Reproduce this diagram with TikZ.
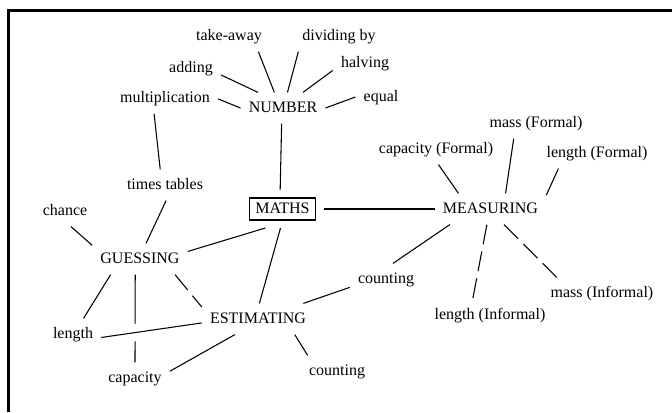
\documentclass[tikz,border=0pt]{standalone}
\usepackage{fontspec}
\setmainfont{Liberation Serif}
\begin{document}
\begin{tikzpicture}[
    x=0.75pt, y=-0.75pt,
    concept/.style={inner xsep=6pt, inner ysep=6pt,
      text height=8.5pt, text depth=2.5pt,
      font=\fontsize{12pt}{14pt}\selectfont},
    hub/.style={concept, draw, line width=0.8pt,
      inner xsep=4.5pt, inner ysep=2.75pt, outer sep=6pt},
    link/.style={line width=0.8pt},
    informal/.style={link, dash pattern=on 15pt off 5.5pt},
    bridge/.style={link, preaction={draw=white, line width=13pt}},
    frame/.style={line width=2.2pt, line join=miter},
]
\useasboundingbox (0,0) rectangle (672,412);
\draw[frame] (672,10.7) -| (8.7,412);
% number branch
\node[concept] (takeaway) at (229,36) {take-away};
\node[concept] (dividing) at (339,36) {dividing by};
\node[concept] (adding) at (191,68) {adding};
\node[concept] (halving) at (365,63) {halving};
\node[concept] (multiplication) at (165,98) {multiplication};
\node[concept] (number) at (283,108) {NUMBER};
\node[concept] (equal) at (381,97) {equal};
\node[concept] (timestables) at (165,185) {times tables};
\node[hub] (maths) at (282.5,209) {MATHS};
% measuring branch
\node[concept] (measuring) at (490.5,209) {MEASURING};
\node[concept] (capacityformal) at (436,149) {capacity (Formal)};
\node[concept] (massformal) at (536,123) {mass (Formal)};
\node[concept] (lengthformal) at (597,153) {length (Formal)};
\node[concept] (lengthinformal) at (490,315) {length (Informal)};
\node[concept] (massinformal) at (602,293) {mass (Informal)};
% guessing and estimating
\node[concept] (chance) at (65,211) {chance};
\node[concept] (guessing) at (140,259) {GUESSING};
\node[concept] (estimating) at (258,319) {ESTIMATING};
\node[concept] (length) at (73,334) {length};
\node[concept] (capacity) at (135,378) {capacity};
\node[concept] (countlow) at (337,371) {counting};
\node[concept] (countmid) at (386,279) {counting};

\draw[link] (number.119) -- (takeaway.-28);
\draw[link] (number.74) -- (dividing.-159);
\draw[link] (number.148) -- (adding.-13);
\draw[link] (number.38) -- (halving.-167);
\draw[link] (number.180) -- (multiplication.-1);
\draw[link] (number.0) -- (equal.180);
\draw[link] (number.-95) -- (maths.97);
\draw[link] (multiplication.-125) -- (timestables.107);
\draw[link] (timestables.-86) -- (guessing.69);
\draw[link] (maths.0) -- (measuring.180);
\draw[link] (maths.-132) -- (guessing.9);
\draw[link] (maths.-96) -- (estimating.85);
\draw[link] (measuring.154) -- (capacityformal.-81);
\draw[link] (measuring.46) -- (massformal.-145);
\draw[link] (measuring.14) -- (lengthformal.-158);
\draw[link] (measuring.-159) -- (countmid.66);
\draw[informal] (measuring.-103) -- (lengthinformal.138);
\draw[informal] (measuring.-49) -- (massinformal.161);
\draw[link] (chance.-69) -- (guessing.164);
\draw[informal] (guessing.-24) -- (estimating.168);
\draw[link] (guessing.-152) -- (length.56);
\draw[link] (guessing.-107) -- (capacity.90);
\draw[bridge] (length.-7) -- (estimating.184);
\draw[link] (capacity.11) -- (estimating.-146);
\draw[link] (estimating.-23) -- (countlow.152);
\draw[link] (estimating.19) -- (countmid.193);
\end{tikzpicture}
\end{document}
